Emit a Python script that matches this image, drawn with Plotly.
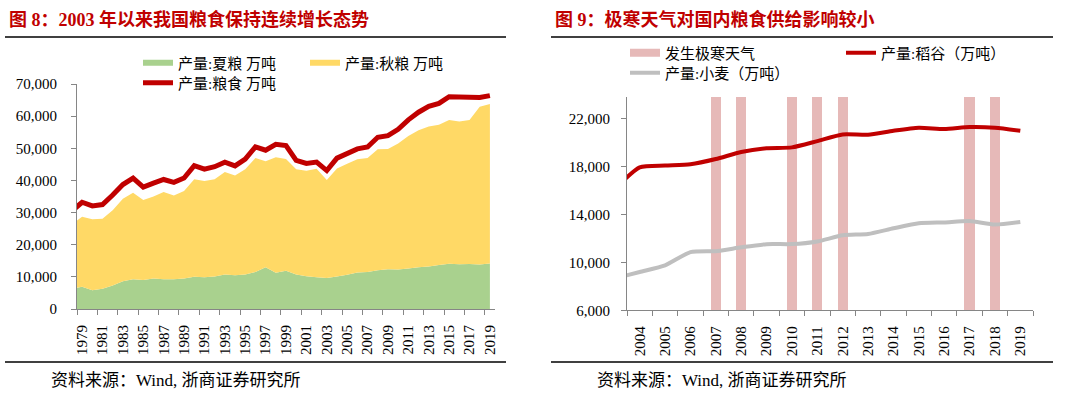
import plotly.graph_objects as go

# ---------------- data: left chart (万吨) ----------------
years_left = list(range(1978, 2020))
summer_grain = [6300, 6900, 5850, 6300, 7300, 8600, 9250, 9000, 9500, 9250,
                9250, 9500, 10000, 9900, 10100, 10700, 10500, 10700, 11500, 13000,
                11300, 11900, 10700, 10200, 9900, 9622, 10107, 10627, 11394, 11534,
                12041, 12335, 12310, 12627, 12995, 13189, 13660, 14112, 13926, 14031,
                13881, 14160]
autumn_grain = [20100, 21800, 22050, 21800, 23400, 25700, 26950, 24900, 25500, 27150,
                26050, 27200, 30400, 29900, 30300, 31900, 31000, 32800, 35500, 33000,
                35900, 34800, 32800, 32800, 33700, 30498, 33618, 34596, 35223, 35430,
                37672, 37420, 39206, 41218, 42634, 43598, 43642, 44663, 44421, 44773,
                49049, 49597]
total_grain = [30477, 33212, 32056, 32502, 35450, 38728, 40731, 37911, 39151, 40298,
               39408, 40755, 44624, 43529, 44266, 45649, 44510, 46662, 50454, 49417,
               51230, 50839, 46218, 45264, 45706, 43070, 46947, 48402, 49804, 50414,
               53434, 53941, 55911, 58849, 61223, 63048, 63965, 66060, 66044, 66161,
               65789, 66384]
left_tick_years = list(range(1979, 2020, 2))
left_y_ticks = [0, 10000, 20000, 30000, 40000, 50000, 60000, 70000]

# ---------------- data: right chart (万吨) ----------------
years_right = list(range(2003, 2020))
rice = [16066, 17909, 18059, 18172, 18603, 19190, 19510, 19576, 20100, 20653,
        20629, 20961, 21214, 21109, 21268, 21213, 20961]
wheat = [8649, 9195, 9745, 10847, 10930, 11246, 11512, 11518, 11740, 12247,
         12364, 12832, 13256, 13327, 13433, 13144, 13359]
cold_years = [2007, 2008, 2010, 2011, 2012, 2017, 2018]
cold_flag = [1, 1, 1, 1, 1, 1, 1]
right_tick_years = list(range(2004, 2020))
right_y_ticks = [6000, 10000, 14000, 18000, 22000]

# ---------------- styling ----------------
W, H = 1080, 393
GREEN = "#A9D18E"
YELLOW = "#FFD966"
RED = "#C00000"
PINK = "#E6B9B8"
GRAY = "#BFBFBF"
AXIS = "#868686"
TITLE_RED = "#C00000"
FONT = "Liberation Serif, Noto Sans CJK SC, serif"


def px(x):
    return x / W


def py(y):
    return 1 - y / H


fig = go.Figure()

# left chart
fig.add_trace(go.Scatter(x=years_left, y=summer_grain, name="产量:夏粮 万吨", mode="none",
                         stackgroup="grain", fillcolor=GREEN, xaxis="x", yaxis="y",
                         legend="legend", hoverinfo="skip"))
fig.add_trace(go.Scatter(x=years_left, y=autumn_grain, name="产量:秋粮 万吨", mode="none",
                         stackgroup="grain", fillcolor=YELLOW, xaxis="x", yaxis="y",
                         legend="legend2", hoverinfo="skip"))
fig.add_trace(go.Scatter(x=years_left, y=total_grain, name="产量:粮食 万吨", mode="lines",
                         line=dict(color=RED, width=5), xaxis="x", yaxis="y",
                         legend="legend3"))

# right chart
fig.add_trace(go.Bar(x=cold_years, y=cold_flag, name="发生极寒天气", marker_color=PINK,
                     marker_line_width=0, width=0.4, xaxis="x2", yaxis="y2",
                     showlegend=False))
# legend swatch for the bars (wide pink band, as in the original legend)
fig.add_trace(go.Scatter(x=[None], y=[None], name="发生极寒天气", mode="lines",
                         line=dict(color=PINK, width=8), xaxis="x2", yaxis="y2",
                         legend="legend4", hoverinfo="skip"))
fig.add_trace(go.Scatter(x=years_right, y=rice, name="产量:稻谷（万吨）", mode="lines",
                         line=dict(color=RED, width=4, shape="spline", smoothing=0.6),
                         xaxis="x2", yaxis="y3", legend="legend5"))
fig.add_trace(go.Scatter(x=years_right, y=wheat, name="产量:小麦（万吨）", mode="lines",
                         line=dict(color=GRAY, width=4, shape="spline", smoothing=0.6),
                         xaxis="x2", yaxis="y3", legend="legend6"))

# page furniture: black rules under the titles and above the source notes,
# drawn on a hidden full-page pixel axis
rule_x = [5, 506, None, 5, 506, None, 551, 1053, None, 551, 1053]
rule_y = [37, 37, None, 362, 362, None, 37, 37, None, 362, 362]
fig.add_trace(go.Scatter(x=rule_x, y=rule_y, mode="lines", showlegend=False,
                         hoverinfo="skip", line=dict(color="#000000", width=1.6),
                         xaxis="x3", yaxis="y4"))

tickfont = dict(family=FONT, size=15, color="#000000")


def leg(xp, yp):
    return dict(x=px(xp), y=py(yp), xanchor="left", yanchor="middle", orientation="h",
                bgcolor="rgba(0,0,0,0)", borderwidth=0, visible=True,
                font=dict(family=FONT, size=15, color="#000000"))


fig.update_layout(
    template="none",
    width=W, height=H,
    margin=dict(l=0, r=0, t=0, b=0, autoexpand=False),
    paper_bgcolor="white", plot_bgcolor="rgba(0,0,0,0)",
    font=dict(family=FONT, size=14, color="#000000"),
    showlegend=True,
    bargap=0,
    legend=leg(138, 63), legend2=leg(305, 63), legend3=leg(138, 83),
    legend4=leg(625, 53), legend5=leg(841, 53), legend6=leg(625, 73),
    xaxis=dict(domain=[px(77), px(495)], range=[1978.5, 2019.5], anchor="y",
               automargin=False,
               tickmode="array", tickvals=left_tick_years,
               ticktext=[str(v) for v in left_tick_years], tickangle=-90,
               ticks="", showline=True, linecolor=AXIS, linewidth=1,
               showgrid=False, zeroline=False, tickfont=tickfont, ticklabelstandoff=9,
               minor=dict(tickmode="linear", tick0=1978.5, dtick=2, ticks="outside",
                          ticklen=5, tickcolor=AXIS, showgrid=False)),
    yaxis=dict(domain=[py(309), py(84)], range=[0, 70000], anchor="x",
               automargin=False,
               tickmode="array", tickvals=left_y_ticks, tickformat=",d",
               ticks="outside", ticklen=5, tickcolor=AXIS, showline=True,
               linecolor=AXIS, linewidth=1, showgrid=False, zeroline=False,
               tickfont=tickfont, ticklabelstandoff=11),
    xaxis2=dict(domain=[px(627), px(1033)], range=[2003.5, 2019.5], anchor="y2",
                automargin=False,
                tickmode="array", tickvals=right_tick_years,
                ticktext=[str(v) for v in right_tick_years], tickangle=-90,
                ticks="", showline=True, linecolor=AXIS, linewidth=1,
                showgrid=False, zeroline=False, tickfont=tickfont, ticklabelstandoff=9,
                minor=dict(tickmode="linear", tick0=2003.5, dtick=1, ticks="outside",
                           ticklen=5, tickcolor=AXIS, showgrid=False)),
    yaxis2=dict(domain=[py(310.3), py(96.7)], range=[0, 1], anchor="x2",
                automargin=False,
                visible=False, showgrid=False, zeroline=False),
    yaxis3=dict(overlaying="y2", anchor="x2", side="left", range=[6000, 23800],
                automargin=False,
                tickmode="array", tickvals=right_y_ticks, tickformat=",d",
                ticks="outside", ticklen=5, tickcolor=AXIS, showline=True,
                linecolor=AXIS, linewidth=1, showgrid=False, zeroline=False,
                tickfont=tickfont, ticklabelstandoff=8),
    xaxis3=dict(domain=[0, 1], range=[0, W], anchor="y4", visible=False,
                automargin=False, fixedrange=True),
    yaxis4=dict(domain=[0, 1], range=[H, 0], anchor="x3", visible=False,
                automargin=False, fixedrange=True),
)

title_font = dict(family=FONT, size=18, color=TITLE_RED)
fig.add_annotation(text="<b>图 8：2003 年以来我国粮食保持连续增长态势</b>", x=px(7), y=py(19),
                   xref="paper", yref="paper", xanchor="left", yanchor="middle",
                   showarrow=False, font=title_font)
fig.add_annotation(text="<b>图 9：极寒天气对国内粮食供给影响较小</b>", x=px(553), y=py(19),
                   xref="paper", yref="paper", xanchor="left", yanchor="middle",
                   showarrow=False, font=title_font)
src_font = dict(family=FONT, size=17, color="#000000")
fig.add_annotation(text="资料来源：Wind, 浙商证券研究所", x=px(49), y=py(380),
                   xref="paper", yref="paper", xanchor="left", yanchor="middle",
                   showarrow=False, font=src_font)
fig.add_annotation(text="资料来源：Wind, 浙商证券研究所", x=px(595), y=py(380),
                   xref="paper", yref="paper", xanchor="left", yanchor="middle",
                   showarrow=False, font=src_font)

fig.write_html("out.html", config={"displayModeBar": False},
               post_script="document.body.style.margin='0';document.body.style.overflow='hidden';")
